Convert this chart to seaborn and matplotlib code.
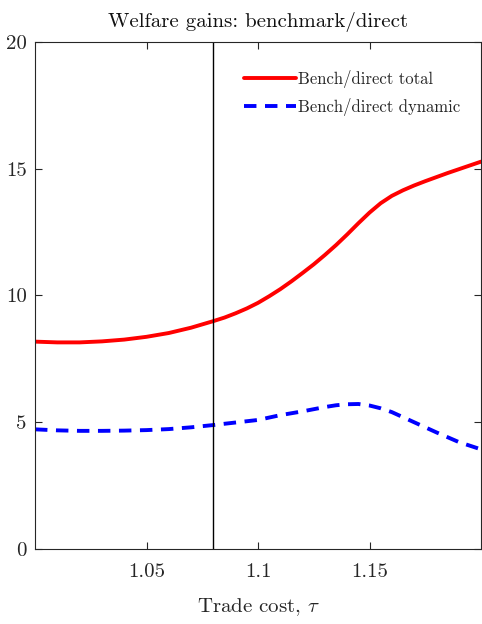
import numpy as np
import pandas as pd
import matplotlib
matplotlib.use("Agg")
import matplotlib.pyplot as plt
from matplotlib.lines import Line2D
import seaborn as sns

# Welfare gain ratio, total: trade cost grid and values
tau_total = [1.00, 1.01, 1.02, 1.03, 1.04, 1.05, 1.06, 1.07, 1.08, 1.085,
             1.09, 1.095, 1.10, 1.105, 1.11, 1.115, 1.12, 1.125, 1.13, 1.135,
             1.14, 1.145, 1.15, 1.155, 1.16, 1.165, 1.17, 1.175, 1.18, 1.185,
             1.19, 1.195, 1.20]
gain_total = [8.18, 8.15, 8.15, 8.19, 8.26, 8.37, 8.52, 8.73, 8.99, 9.13,
              9.30, 9.49, 9.71, 9.97, 10.25, 10.56, 10.89, 11.23, 11.60, 11.99,
              12.41, 12.85, 13.27, 13.64, 13.93, 14.15, 14.34, 14.51, 14.67, 14.83,
              14.98, 15.13, 15.28]

# Welfare gain ratio, dynamic part
tau_dynamic = [1.00, 1.01, 1.02, 1.03, 1.04, 1.05, 1.06, 1.07, 1.08, 1.09,
               1.10, 1.11, 1.12, 1.13, 1.135, 1.14, 1.145, 1.15, 1.155, 1.16,
               1.17, 1.18, 1.19, 1.20]
gain_dynamic = [4.72, 4.68, 4.66, 4.66, 4.67, 4.69, 4.73, 4.80, 4.89, 4.99,
                5.09, 5.28, 5.43, 5.60, 5.67, 5.71, 5.72, 5.66, 5.55, 5.40,
                5.00, 4.60, 4.22, 3.93]

tau_baseline = 1.08

series_names = ["Bench/direct total", "Bench/direct dynamic"]
x_ticks = [1.05, 1.1, 1.15]
x_tick_labels = ["1.05", "1.1", "1.15"]
y_ticks = [0, 5, 10, 15, 20]

df = pd.DataFrame({
    "tau": tau_total + tau_dynamic,
    "gain": gain_total + gain_dynamic,
    "series": [series_names[0]] * len(tau_total) + [series_names[1]] * len(tau_dynamic),
})

sns.set_theme(style="white")
plt.rcParams["font.family"] = ["cmr10", "DejaVu Serif"]
plt.rcParams["mathtext.fontset"] = "cm"
plt.rcParams["axes.formatter.use_mathtext"] = True

fig = plt.figure(figsize=(4.82, 6.24), dpi=100)
ax = fig.add_axes([0.0726, 0.1202, 0.9254, 0.8125])

dash = (3.2, 2.2)
sns.lineplot(data=df, x="tau", y="gain", hue="series", style="series",
             palette={series_names[0]: "#ff0000", series_names[1]: "#0000ff"},
             dashes={series_names[0]: "", series_names[1]: dash},
             linewidth=2.8, ax=ax, legend=False, sort=False)

ax.axvline(tau_baseline, color="black", linewidth=1.0)

ax.set_xlim(1.0, 1.2)
ax.set_ylim(0, 20)
ax.set_xticks(x_ticks)
ax.set_xticklabels(x_tick_labels)
ax.set_yticks(y_ticks)
ax.set_yticklabels([str(v) for v in y_ticks])
ax.tick_params(axis="both", direction="in", length=5, width=0.8, labelsize=15,
               top=True, right=True, bottom=True, left=True, color="#262626",
               labelcolor="#262626")
ax.tick_params(axis="x", pad=10)
ax.tick_params(axis="y", pad=6)
for sp in ax.spines.values():
    sp.set_visible(True)
    sp.set_color("#262626")
    sp.set_linewidth(0.8)

ax.set_xlabel(r"Trade cost, $\tau$", fontsize=15, color="#262626", labelpad=11)
ax.set_ylabel("")
ax.set_title("Welfare gains: benchmark/direct", fontsize=15, color="#111111", pad=11)

handles = [Line2D([], [], color="#ff0000", linewidth=2.8),
           Line2D([], [], color="#0000ff", linewidth=2.8, dashes=dash)]
ax.legend(handles, series_names, loc="upper right", frameon=False, fontsize=12,
          handlelength=3.1, handletextpad=0.15, labelspacing=0.6,
          bbox_to_anchor=(0.988, 0.975))

fig.savefig("out.png", dpi=100)
